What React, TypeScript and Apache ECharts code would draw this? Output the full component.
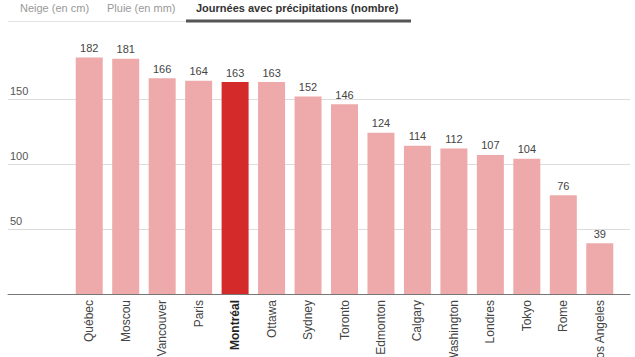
import React, { useEffect, useRef } from "react";
import * as echarts from "echarts";

const cities = ["Québec", "Moscou", "Vancouver", "Paris", "Montréal", "Ottawa", "Sydney", "Toronto", "Edmonton", "Calgary", "Washington", "Londres", "Tokyo", "Rome", "Los Angeles"];
const days = [182, 181, 166, 164, 163, 163, 152, 146, 124, 114, 112, 107, 104, 76, 39];
const highlight = "Montréal";
const tabs = ["Neige (en cm)", "Pluie (en mm)", "Journées avec précipitations (nombre)"];
const yTicks = [0, 50, 100, 150, 200];

const FONT = "Liberation Sans, Arial, sans-serif";

export default function App() {
  const ref = useRef<HTMLDivElement>(null);
  useEffect(() => {
    const chart = echarts.init(ref.current!, null, { renderer: "svg" });
    const yMax = yTicks[yTicks.length - 1];
    chart.setOption({
      animation: false,
      textStyle: { fontFamily: FONT },
      grid: [
        { left: 8, right: 5, top: 34, bottom: 63, containLabel: false, outerBoundsMode: "none" },
        { left: 71, right: 17, top: 34, bottom: 63, containLabel: false, outerBoundsMode: "none" },
      ],
      xAxis: [
        {
          gridIndex: 0,
          type: "category",
          data: [""],
          axisLine: { show: true, lineStyle: { color: "#777", width: 1 } },
          axisTick: { show: false },
          axisLabel: { show: false },
        },
        {
          gridIndex: 1,
          type: "category",
          data: cities,
          axisLine: { show: false },
          axisTick: { show: false },
          axisLabel: {
            rotate: 90,
            margin: 6,
            fontSize: 12,
            color: "#444",
            fontFamily: FONT,
            formatter: (v: string) => (v === highlight ? `{b|${v}}` : v),
            rich: { b: { fontWeight: "bold", color: "#222", fontSize: 12, fontFamily: FONT } },
          },
        },
      ],
      yAxis: [
        {
          gridIndex: 0,
          type: "value",
          min: 0,
          max: yMax,
          interval: 50,
          axisLine: { show: false },
          axisTick: { show: false },
          splitLine: {
            show: true,
            lineStyle: { color: ["transparent", "#dcdcdc", "#dcdcdc", "#dcdcdc", "transparent"], width: 1 },
          },
          axisLabel: {
            inside: true,
            margin: 2,
            verticalAlign: "bottom",
            padding: [0, 0, 3, 0],
            fontSize: 11,
            color: "#555",
            fontFamily: FONT,
            formatter: (v: number) => (v === 0 || v === yMax ? "" : String(v)),
          },
        },
        {
          gridIndex: 1,
          type: "value",
          min: 0,
          max: yMax,
          interval: 50,
          show: false,
        },
      ],
      series: [
        {
          type: "bar",
          xAxisIndex: 1,
          yAxisIndex: 1,
          barWidth: 27,
          data: days.map((v, i) => ({
            value: v,
            itemStyle: { color: cities[i] === highlight ? "#d42a2a" : "#eeaaaa" },
          })),
          label: {
            show: true,
            position: "top",
            distance: 4,
            fontSize: 11,
            color: "#444",
            fontFamily: FONT,
          },
        },
      ],
      graphic: [
        { type: "line", shape: { x1: 8, y1: 21.5, x2: 186, y2: 21.5 }, style: { stroke: "#e2e2e2", lineWidth: 1 } },
        { type: "line", shape: { x1: 186, y1: 21, x2: 411, y2: 21 }, style: { stroke: "#555", lineWidth: 3 } },
        { type: "text", x: 20, y: 8, style: { text: tabs[0], fill: "#999", fontSize: 11, fontFamily: FONT, textVerticalAlign: "middle" } },
        { type: "text", x: 107, y: 8, style: { text: tabs[1], fill: "#999", fontSize: 11, fontFamily: FONT, textVerticalAlign: "middle" } },
        { type: "text", x: 196, y: 8, style: { text: tabs[2], fill: "#333", fontSize: 11, fontWeight: "bold", fontFamily: FONT, textVerticalAlign: "middle" } },
      ],
    });
    return () => chart.dispose();
  }, []);
  return <div ref={ref} style={{ width: 635, height: 357, position: "absolute", left: 0, top: 0 }} />;
}
